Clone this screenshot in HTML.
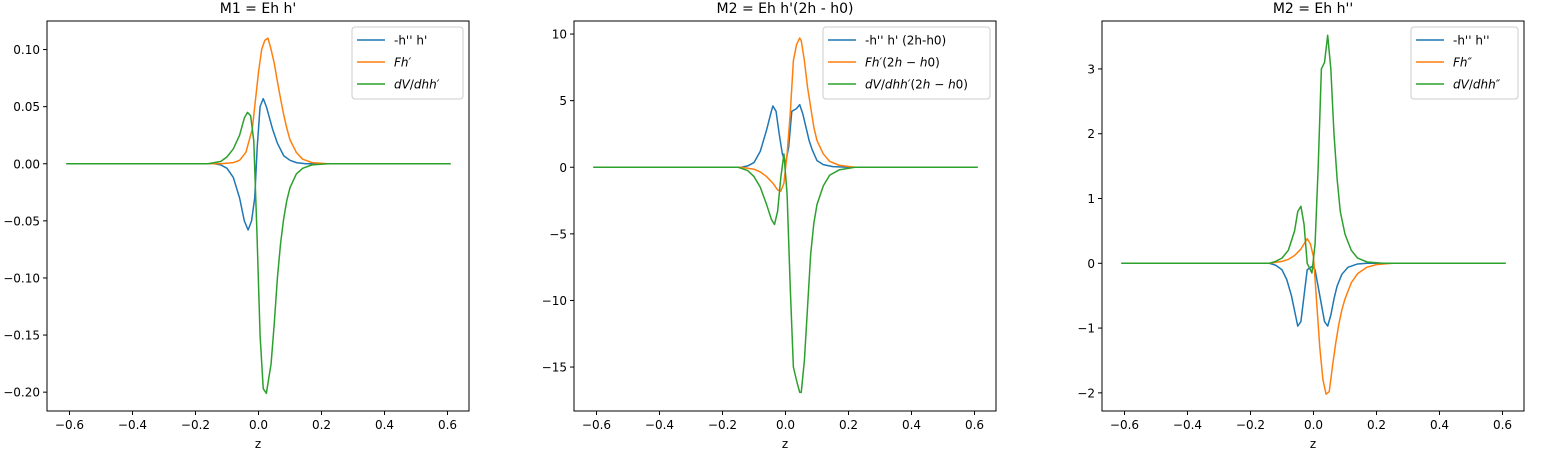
<!DOCTYPE html>
<html><head><meta charset="utf-8"><style>
body{margin:0;background:#fff;}
svg{display:block;font-family:"DejaVu Sans","Liberation Sans",sans-serif;}
</style></head><body>
<svg id="fig" width="1550" height="450" viewBox="0 0 1550 450"></svg>
<script>
// Panel 1 data
const p1_blue_x = [-0.61,-0.14,-0.12,-0.1,-0.08,-0.06,-0.045,-0.033,-0.022,-0.012,-0.004,0.005,0.015,0.025,0.035,0.045,0.06,0.08,0.1,0.12,0.15,0.61];
const p1_blue_y = [0,0,-0.001,-0.004,-0.012,-0.03,-0.05,-0.058,-0.05,-0.03,0.015,0.05,0.057,0.05,0.04,0.03,0.018,0.007,0.003,0.001,0,0];
const p1_orange_x = [-0.61,-0.12,-0.08,-0.06,-0.04,-0.02,-0.01,0,0.01,0.02,0.03,0.04,0.05,0.06,0.07,0.08,0.09,0.1,0.12,0.14,0.17,0.22,0.61];
const p1_orange_y = [0,0,0.001,0.003,0.01,0.03,0.055,0.08,0.1,0.108,0.11,0.1,0.088,0.072,0.057,0.043,0.031,0.021,0.01,0.004,0.001,0,0];
const p1_green_x = [-0.61,-0.16,-0.12,-0.1,-0.08,-0.06,-0.045,-0.035,-0.025,-0.015,-0.005,0.005,0.015,0.025,0.04,0.05,0.06,0.07,0.08,0.09,0.1,0.12,0.14,0.17,0.22,0.61];
const p1_green_y = [0,0,0.002,0.006,0.013,0.025,0.04,0.045,0.042,0.02,-0.06,-0.15,-0.197,-0.201,-0.175,-0.14,-0.1,-0.07,-0.048,-0.032,-0.021,-0.009,-0.004,-0.001,0,0];
// Panel 2 data
const p2_blue_x = [-0.61,-0.14,-0.12,-0.1,-0.08,-0.06,-0.045,-0.04,-0.03,-0.02,-0.01,0,0.01,0.02,0.035,0.045,0.055,0.065,0.075,0.085,0.1,0.12,0.15,0.2,0.61];
const p2_blue_y = [0,0,0.1,0.35,1.2,2.8,4.2,4.6,4.2,2.5,1,0.3,1.5,4.2,4.4,4.7,4,3,2,1.3,0.5,0.2,0.05,0,0];
const p2_orange_x = [-0.61,-0.14,-0.1,-0.08,-0.06,-0.04,-0.025,-0.015,-0.005,0.005,0.015,0.025,0.035,0.045,0.05,0.06,0.07,0.08,0.09,0.1,0.12,0.14,0.17,0.22,0.61];
const p2_orange_y = [0,0,-0.15,-0.35,-0.7,-1.2,-1.7,-1.8,-1.2,1,4,8,9.2,9.7,9.5,8,6,4.5,3,2,1,0.45,0.15,0,0];
const p2_green_x = [-0.61,-0.15,-0.12,-0.1,-0.08,-0.06,-0.045,-0.035,-0.025,-0.015,-0.005,0.005,0.015,0.025,0.035,0.045,0.05,0.06,0.07,0.08,0.09,0.1,0.12,0.14,0.17,0.22,0.61];
const p2_green_y = [0,0,-0.25,-0.7,-1.5,-2.8,-3.9,-4.3,-3.3,-0.8,1,-2,-9,-15,-16,-16.9,-16.9,-14.5,-10.5,-6.5,-4.2,-2.8,-1.4,-0.6,-0.2,0,0];
// Panel 3 data
const p3_blue_x = [-0.61,-0.14,-0.12,-0.1,-0.085,-0.07,-0.05,-0.04,-0.03,-0.02,-0.005,0.005,0.02,0.035,0.045,0.055,0.065,0.075,0.09,0.11,0.14,0.17,0.61];
const p3_blue_y = [0,0,-0.03,-0.1,-0.25,-0.5,-0.97,-0.9,-0.5,-0.1,-0.05,-0.1,-0.5,-0.9,-0.97,-0.8,-0.55,-0.35,-0.17,-0.06,-0.01,0,0];
const p3_orange_x = [-0.61,-0.14,-0.1,-0.08,-0.06,-0.04,-0.03,-0.02,-0.01,0,0.01,0.02,0.03,0.04,0.05,0.06,0.07,0.08,0.09,0.1,0.12,0.14,0.17,0.2,0.25,0.61];
const p3_orange_y = [0,0,0.03,0.06,0.12,0.22,0.3,0.38,0.3,0.1,-0.6,-1.3,-1.8,-2.02,-1.98,-1.6,-1.25,-0.95,-0.72,-0.55,-0.3,-0.16,-0.06,-0.02,0,0];
const p3_green_x = [-0.61,-0.14,-0.12,-0.1,-0.08,-0.06,-0.05,-0.04,-0.03,-0.02,-0.005,0.005,0.015,0.025,0.035,0.045,0.055,0.065,0.075,0.085,0.1,0.12,0.14,0.17,0.22,0.61];
const p3_green_y = [0,0,0.03,0.08,0.2,0.5,0.8,0.88,0.6,0.0,-0.15,0.3,1.5,3,3.1,3.52,3,2,1.3,0.8,0.45,0.2,0.08,0.02,0,0];
// Ticks
const xTicks = [-0.6,-0.4,-0.2,0.0,0.2,0.4,0.6];
const xTickLabels = ["\u22120.6","\u22120.4","\u22120.2","0.0","0.2","0.4","0.6"];
const p1_yTicks = [0.10,0.05,0.00,-0.05,-0.10,-0.15,-0.20];
const p1_yTickLabels = ["0.10","0.05","0.00","\u22120.05","\u22120.10","\u22120.15","\u22120.20"];
const p2_yTicks = [10,5,0,-5,-10,-15];
const p2_yTickLabels = ["10","5","0","\u22125","\u221210","\u221215"];
const p3_yTicks = [3,2,1,0,-1,-2];
const p3_yTickLabels = ["3","2","1","0","\u22121","\u22122"];
const titles = ["M1 = Eh h'","M2 = Eh h'(2h - h0)","M2 = Eh h''"];
const p1_legend = ["-h'' h'","<tspan font-style='italic'>Fh′</tspan>","<tspan font-style='italic'>dV</tspan>/<tspan font-style='italic'>dhh′</tspan>"];
const p2_legend = ["-h'' h' (2h-h0)","<tspan font-style='italic'>Fh′</tspan>(2<tspan font-style='italic'>h</tspan> − <tspan font-style='italic'>h</tspan>0)","<tspan font-style='italic'>dV</tspan>/<tspan font-style='italic'>dhh′</tspan>(2<tspan font-style='italic'>h</tspan> − <tspan font-style='italic'>h</tspan>0)"];
const p3_legend = ["-h'' h''","<tspan font-style='italic'>Fh″</tspan>","<tspan font-style='italic'>dV</tspan>/<tspan font-style='italic'>dhh″</tspan>"];

const colors = ["#1f77b4","#ff7f0e","#2ca02c"];
const NS = "http://www.w3.org/2000/svg";
const fig = document.getElementById('fig');
function mk(tag, attrs, parent){const e=document.createElementNS(NS,tag);for(const k in attrs)e.setAttribute(k,attrs[k]);(parent||fig).appendChild(e);return e;}

const panels = [
 {left:47, ymin:-0.2165, ymax:0.125, yt:p1_yTicks, ytl:p1_yTickLabels, series:[[p1_blue_x,p1_blue_y],[p1_orange_x,p1_orange_y],[p1_green_x,p1_green_y]], leg:p1_legend, legW:111},
 {left:574, ymin:-18.3, ymax:10.98, yt:p2_yTicks, ytl:p2_yTickLabels, series:[[p2_blue_x,p2_blue_y],[p2_orange_x,p2_orange_y],[p2_green_x,p2_green_y]], leg:p2_legend, legW:167},
 {left:1102, ymin:-2.28, ymax:3.74, yt:p3_yTicks, ytl:p3_yTickLabels, series:[[p3_blue_x,p3_blue_y],[p3_orange_x,p3_orange_y],[p3_green_x,p3_green_y]], leg:p3_legend, legW:107}
];
const plotTop=21, plotBottom=411, W=422;
const names=['panel-m1','panel-m2-prime','panel-m2-double-prime'];
panels.forEach((p,pi)=>{
  const g=mk('g',{});
  
  
  const xs=v=>p.left+22.5+(v+0.6)/1.2*378;
  const ys=v=>plotTop+(p.ymax-v)/(p.ymax-p.ymin)*(plotBottom-plotTop);
  const t=mk('text',{x:p.left+W/2,y:13,'text-anchor':'middle','font-size':14,fill:'#000'},g);
  t.textContent=titles[pi];
  
  
  p.series.forEach((s,si)=>{
    let d='';
    for(let i=0;i<s[0].length;i++) d+=(i?'L':'M')+xs(s[0][i]).toFixed(2)+','+ys(s[1][i]).toFixed(2);
    const pl=mk('path',{d:d,fill:'none',stroke:colors[si],'stroke-width':1.5,'stroke-linejoin':'round'},g);
    
    
  });
  const fr=mk('rect',{x:p.left,y:plotTop,width:W,height:plotBottom-plotTop,fill:'none',stroke:'#000','stroke-width':1},g);
  
  
  xTicks.forEach((v,i)=>{
    const x=xs(v);
    mk('line',{x1:x,x2:x,y1:plotBottom,y2:plotBottom+4,stroke:'#000'},g);
    const tl=mk('text',{x:x,y:plotBottom+18,'text-anchor':'middle','font-size':12},g);
    tl.textContent=xTickLabels[i];
    
    
  });
  p.yt.forEach((v,i)=>{
    const y=ys(v);
    mk('line',{x1:p.left-4,x2:p.left,y1:y,y2:y,stroke:'#000'},g);
    const tl=mk('text',{x:p.left-7,y:y+4.5,'text-anchor':'end','font-size':12},g);
    tl.textContent=p.ytl[i];
    
    
  });
  const xl=mk('text',{x:p.left+W/2,y:448,'text-anchor':'middle','font-size':12},g);
  xl.textContent='z';
  
  
  const lx=p.left+W-6-p.legW, ly=27;
  const lg=mk('g',{},g);
  
  
  mk('rect',{x:lx,y:ly,width:p.legW,height:72,rx:3,fill:'#fff','fill-opacity':0.8,stroke:'#ccc'},lg);
  p.leg.forEach((lab,i)=>{
    const y=ly+13+i*22;
    mk('line',{x1:lx+5,x2:lx+33,y1:y,y2:y,stroke:colors[i],'stroke-width':1.5},lg);
    const tx=mk('text',{x:lx+42,y:y+4.5,'font-size':12},lg);
    tx.innerHTML=lab;
    
    
  });
});
</script>
</body></html>
